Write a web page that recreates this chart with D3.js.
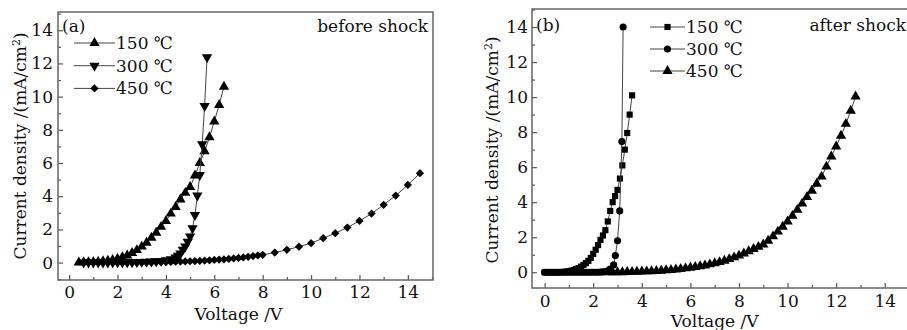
<!DOCTYPE html>
<html>
<head>
<meta charset="utf-8">
<script src="https://cdn.jsdelivr.net/npm/d3@7"></script>
<style>
  body { margin: 0; background: #fff; }
  svg text { font-family: "DejaVu Serif", "Liberation Serif", "DejaVu Sans", serif; fill: #111; }
</style>
</head>
<body>
<div id="chart"></div>
<script>
// ---- panel (a) before shock ----
var voltA150 = [0.4, 0.6, 0.8, 1.0, 1.2, 1.4, 1.6, 1.8, 2.0, 2.2, 2.4, 2.6, 2.8, 3.0, 3.2, 3.4, 3.6, 3.8, 4.0, 4.2, 4.4, 4.6, 4.8, 5.0, 5.2, 5.4, 5.6, 5.8, 6.0, 6.2, 6.4];
var currA150 = [0.01, 0.02, 0.03, 0.04, 0.05, 0.08, 0.11, 0.16, 0.23, 0.32, 0.43, 0.58, 0.75, 0.96, 1.2, 1.5, 1.8, 2.15, 2.5, 2.95, 3.35, 3.8, 4.2, 4.55, 5.25, 6.0, 6.7, 7.55, 8.5, 9.5, 10.6];

var voltA300 = [0.6, 0.8, 1.0, 1.2, 1.4, 1.6, 1.8, 2.0, 2.2, 2.4, 2.6, 2.8, 3.0, 3.2, 3.4, 3.6, 3.8, 4.0, 4.2, 4.4, 4.5, 4.6, 4.7, 4.8, 4.9, 5.0, 5.1, 5.2, 5.3, 5.4, 5.5, 5.6, 5.7];
var currA300 = [0, 0, 0, 0, 0, 0, 0.01, 0.01, 0.01, 0.02, 0.02, 0.03, 0.04, 0.05, 0.06, 0.08, 0.1, 0.14, 0.2, 0.3, 0.42, 0.55, 0.77, 0.97, 1.25, 1.57, 2.07, 2.87, 4.04, 5.28, 7.13, 9.44, 12.37];

var voltA450 = [1.8, 2.0, 2.2, 2.4, 2.6, 2.8, 3.0, 3.2, 3.4, 3.6, 3.8, 4.0, 4.2, 4.4, 4.6, 4.8, 5.0, 5.2, 5.4, 5.6, 5.8, 6.0, 6.2, 6.4, 6.6, 6.8, 7.0, 7.2, 7.4, 7.6, 7.8, 8.0, 8.5, 9.0, 9.5, 10.0, 10.5, 11.0, 11.5, 12.0, 12.5, 13.0, 13.5, 14.0, 14.5];
var currA450 = [0, 0, 0, 0, 0, 0, 0, 0.01, 0.01, 0.02, 0.02, 0.03, 0.04, 0.05, 0.06, 0.07, 0.08, 0.09, 0.1, 0.12, 0.14, 0.16, 0.18, 0.2, 0.22, 0.25, 0.28, 0.31, 0.35, 0.39, 0.43, 0.47, 0.6, 0.77, 0.96, 1.17, 1.47, 1.77, 2.11, 2.51, 2.95, 3.48, 4.04, 4.68, 5.39];

// ---- panel (b) after shock ----
var voltB150 = [0.0, 0.1, 0.2, 0.3, 0.4, 0.5, 0.6, 0.7, 0.8, 0.9, 1.0, 1.1, 1.2, 1.3, 1.4, 1.5, 1.6, 1.7, 1.8, 1.9, 2.0, 2.1, 2.2, 2.3, 2.4, 2.5, 2.6, 2.7, 2.8, 2.9, 3.0, 3.1, 3.2, 3.3, 3.4, 3.5, 3.6];
var currB150 = [0, 0, 0, 0, 0, 0, 0, 0.01, 0.02, 0.04, 0.06, 0.09, 0.13, 0.18, 0.24, 0.32, 0.42, 0.52, 0.65, 0.82, 1.05, 1.28, 1.55, 1.85, 2.1, 2.4, 2.9, 3.5, 4.0, 4.35, 4.7, 5.35, 6.1, 7.0, 7.95, 9.0, 10.1];

var voltB300 = [0.0, 0.1, 0.2, 0.3, 0.4, 0.5, 0.6, 0.7, 0.8, 0.9, 1.0, 1.1, 1.2, 1.3, 1.4, 1.5, 1.6, 1.7, 1.8, 1.9, 2.0, 2.1, 2.2, 2.3, 2.4, 2.5, 2.6, 2.7, 2.84, 2.91, 3.0, 3.09, 3.18, 3.23];
var currB300 = [0, 0, 0, 0, 0, 0, 0, 0, 0, 0, 0, 0, 0, 0, 0, 0, 0, 0, 0, 0, 0, 0, 0, 0.01, 0.02, 0.04, 0.08, 0.18, 0.42, 0.95, 1.8, 3.5, 7.46, 14.0];

var voltB450 = [2.6, 2.8, 3.0, 3.2, 3.4, 3.6, 3.8, 4.0, 4.2, 4.4, 4.6, 4.8, 5.0, 5.2, 5.4, 5.6, 5.8, 6.0, 6.2, 6.4, 6.6, 6.8, 7.0, 7.2, 7.4, 7.6, 7.8, 8.0, 8.2, 8.4, 8.6, 8.8, 9.0, 9.2, 9.4, 9.6, 9.8, 10.0, 10.2, 10.4, 10.6, 10.8, 11.0, 11.2, 11.4, 11.6, 11.8, 12.0, 12.2, 12.4, 12.6, 12.8];
var currB450 = [0, 0, 0, 0, 0.01, 0.02, 0.03, 0.04, 0.05, 0.06, 0.07, 0.09, 0.11, 0.13, 0.16, 0.19, 0.22, 0.26, 0.3, 0.34, 0.39, 0.45, 0.51, 0.58, 0.66, 0.75, 0.85, 0.95, 1.07, 1.2, 1.33, 1.45, 1.58, 1.8, 2.05, 2.32, 2.6, 2.9, 3.22, 3.56, 3.92, 4.3, 4.65, 5.05, 5.46, 6.03, 6.61, 7.18, 7.79, 8.47, 9.22, 10.03];

var seriesLabels = ['150 ℃', '300 ℃', '450 ℃'];
var xMajorTicks = [0, 2, 4, 6, 8, 10, 12, 14];
var xMinorTicks = [1, 3, 5, 7, 9, 11, 13, 15];
var yMajorTicks = [0, 2, 4, 6, 8, 10, 12, 14];
var yMinorTicks = [-1, 1, 3, 5, 7, 9, 11, 13, 15];

var W = 907, H = 330;
var svg = d3.select('#chart').append('svg')
  .attr('width', W).attr('height', H);

function zip(v, c) {
  var arr = [];
  for (var i = 0; i < v.length; i++) arr.push({ v: v[i], j: c[i] });
  return arr;
}

// marker shapes
var markers = {
  up:      { type: d3.symbolTriangle, size: 46, rot: 0 },
  down:    { type: d3.symbolTriangle, size: 46, rot: 180 },
  diamond: { type: d3.symbolSquare,   size: 34, rot: 45 },
  square:  { type: d3.symbolSquare,   size: 38, rot: 0 },
  circle:  { type: d3.symbolCircle,   size: 40, rot: 0 }
};

function drawPanel(cfg) {
  var x = d3.scaleLinear().domain(cfg.xDomain).range([cfg.left, cfg.right]);
  var y = d3.scaleLinear().domain(cfg.yDomain).range([cfg.bottom, cfg.top]);
  var g = svg.append('g');

  // clip
  var clipId = 'clip-' + cfg.name;
  svg.append('clipPath').attr('id', clipId).append('rect')
    .attr('x', cfg.left).attr('y', cfg.top - 8)
    .attr('width', cfg.right - cfg.left).attr('height', cfg.bottom - cfg.top + 8);

  // axes (inward ticks)
  g.append('g')
    .attr('transform', 'translate(0,' + cfg.bottom + ')')
    .call(d3.axisBottom(x).tickValues(xMajorTicks).tickSize(-5).tickPadding(cfg.xPad).tickFormat(d3.format('d')));
  g.append('g')
    .attr('transform', 'translate(0,' + cfg.bottom + ')')
    .call(d3.axisBottom(x).tickValues(xMinorTicks.filter(function(d) { return x(d) < cfg.right; })).tickSize(-3).tickFormat(''));
  g.append('g')
    .attr('transform', 'translate(' + cfg.left + ',0)')
    .call(d3.axisLeft(y).tickValues(yMajorTicks).tickSize(-5).tickPadding(cfg.yPad).tickFormat(d3.format('d')));
  g.append('g')
    .attr('transform', 'translate(' + cfg.left + ',0)')
    .call(d3.axisLeft(y).tickValues(yMinorTicks.filter(function(d) { return y(d) < cfg.bottom && y(d) > cfg.top; })).tickSize(-3).tickFormat(''));

  g.selectAll('.domain').remove();
  g.selectAll('.tick line').attr('stroke', '#555').attr('stroke-width', 1.2);
  g.selectAll('.tick text').attr('font-size', 17).attr('fill', '#111')
    .style('font-family', '"DejaVu Serif", "Liberation Serif", serif');

  // frame
  g.append('rect')
    .attr('x', cfg.left).attr('y', cfg.top)
    .attr('width', cfg.right - cfg.left).attr('height', cfg.bottom - cfg.top)
    .attr('fill', 'none').attr('stroke', '#666').attr('stroke-width', 1.5);

  var line = d3.line()
    .x(function(d) { return x(d.v); })
    .y(function(d) { return y(d.j); });

  var plot = g.append('g').attr('clip-path', 'url(#' + clipId + ')');
  cfg.series.forEach(function(s) {
    var data = zip(s.volt, s.curr);
    plot.append('path')
      .datum(data)
      .attr('fill', 'none')
      .attr('stroke', '#444')
      .attr('stroke-width', 1)
      .attr('d', line);
    var m = markers[s.marker];
    plot.selectAll(null)
      .data(data)
      .enter().append('path')
      .attr('d', d3.symbol().type(m.type).size(m.size))
      .attr('fill', '#000')
      .attr('transform', function(d) {
        return 'translate(' + x(d.v) + ',' + y(d.j) + ') rotate(' + m.rot + ')';
      });
  });

  // legend
  cfg.series.forEach(function(s, i) {
    var ly = cfg.legend.y + i * cfg.legend.dy;
    g.append('line')
      .attr('x1', cfg.legend.x1).attr('x2', cfg.legend.x2)
      .attr('y1', ly).attr('y2', ly)
      .attr('stroke', '#444').attr('stroke-width', 1);
    var m = markers[s.marker];
    g.append('path')
      .attr('d', d3.symbol().type(m.type).size(m.size))
      .attr('fill', '#000')
      .attr('transform', 'translate(' + ((cfg.legend.x1 + cfg.legend.x2) / 2) + ',' + ly + ') rotate(' + m.rot + ')');
    g.append('text')
      .attr('x', cfg.legend.x2 + 1).attr('y', ly + 6)
      .attr('font-size', 17)
      .text(seriesLabels[i]);
  });

  // panel tag and note
  g.append('text').attr('x', cfg.left + 4).attr('y', cfg.tagY)
    .attr('font-size', 17).text(cfg.tag);
  g.append('text').attr('x', cfg.noteX).attr('y', cfg.tagY)
    .attr('text-anchor', 'end').attr('font-size', 17).text(cfg.note);

  // axis titles
  g.append('text')
    .attr('x', (x(0) + x(14)) / 2).attr('y', cfg.xTitleY)
    .attr('text-anchor', 'middle').attr('font-size', 17)
    .text('Voltage /V');
  var yt = g.append('text')
    .attr('transform', 'translate(' + cfg.yTitleX + ',' + cfg.yTitleMid + ') rotate(-90)')
    .attr('text-anchor', 'middle').attr('font-size', 17);
  yt.append('tspan').text('Current density /(mA/cm');
  yt.append('tspan').attr('dy', -6).attr('font-size', 11).text('2');
  yt.append('tspan').attr('dy', 6).text(')');
}

drawPanel({
  name: 'a',
  left: 58, right: 433, top: 12, bottom: 280,
  xDomain: [-0.46, 15.04], yDomain: [-1.05, 15.1],
  xPad: 6, yPad: 5,
  series: [
    { volt: voltA150, curr: currA150, marker: 'up' },
    { volt: voltA300, curr: currA300, marker: 'down' },
    { volt: voltA450, curr: currA450, marker: 'diamond' }
  ],
  legend: { x1: 74, x2: 115, y: 43, dy: 22.7 },
  tag: '(a)', tagY: 32, note: 'before shock', noteX: 428,
  xTitleY: 320, yTitleX: 26, yTitleMid: 146
});

drawPanel({
  name: 'b',
  left: 532, right: 910, top: 9, bottom: 288,
  xDomain: [-0.52, 15.04], yDomain: [-0.9, 15.03],
  xPad: 7, yPad: 4,
  series: [
    { volt: voltB150, curr: currB150, marker: 'square' },
    { volt: voltB300, curr: currB300, marker: 'circle' },
    { volt: voltB450, curr: currB450, marker: 'up' }
  ],
  legend: { x1: 650, x2: 685, y: 27, dy: 22 },
  tag: '(b)', tagY: 31, note: 'after shock', noteX: 906,
  xTitleY: 327, yTitleX: 498, yTitleMid: 150
});
</script>
</body>
</html>
